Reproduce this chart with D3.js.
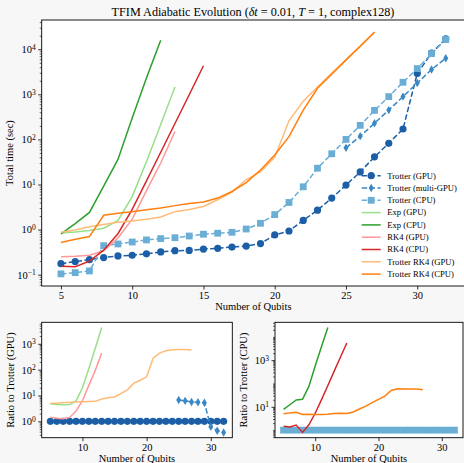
<!DOCTYPE html>
<html lang="en">
<head>
<meta charset="UTF-8">
<title>TFIM Adiabatic Evolution</title>
<script src="https://d3js.org/d3.v7.min.js"></script>
<style>
  body { margin: 0; padding: 0; background: #f7f7f7; }
  svg text { font-family: 'Liberation Serif', 'Times New Roman', serif; fill: #000; }
</style>
</head>
<body>
<div id="chart"></div>
<script>
// number of qubits
const qubits = [5, 6, 7, 8, 9, 10, 11, 12, 13, 14, 15, 16, 17, 18, 19, 20, 21, 22, 23, 24, 25, 26, 27, 28, 29, 30, 31, 32];
const multiQubits = [25, 26, 27, 28, 29, 30, 31, 32];

// total time (sec), series start at 5 qubits
const trotterGPU = [0.175, 0.195, 0.215, 0.24, 0.26, 0.27, 0.29, 0.32, 0.34, 0.345,
                    0.37, 0.385, 0.41, 0.43, 0.49, 0.76, 0.93, 1.6, 2.7, 5.0,
                    9.7, 19, 41, 82, 170, 2900, 8200, 17000];
const trotterMultiGPU = [65, 118, 228, 447, 890, 1780, 3550, 6300];
const trotterCPU = [0.104, 0.111, 0.121, 0.44, 0.48, 0.53, 0.59, 0.63, 0.66, 0.72,
                    0.79, 0.83, 0.87, 1.03, 1.38, 2.15, 4.0, 8.9, 23, 48,
                    100, 205, 440, 890, 1850, 3730, 8000, 16400];
const expGPU = [0.84, 0.88, 0.95, 1.07, 1.6, 5.4, 32, 215, 1450];
const expCPU = [0.8, 1.36, 2.4, 9.2, 36, 300, 2300, 15800];
const rk4GPU = [0.25, 0.255, 0.27, 0.34, 0.65, 1.7, 7.3, 30, 150];
const rk4CPU = [0.153, 0.15, 0.2, 0.35, 0.81, 2.8, 12, 52, 225, 980, 4300];
const trotterRK4GPU = [0.875, 0.98, 1.15, 1.3, 1.45, 1.55, 1.7, 1.9, 2.5, 2.8,
                       3.25, 4.6, 6.8, 12.9, 19, 40, 258, 700, 1450, 2950,
                       5800, 11400, 23800];
const trotterRK4CPU = [0.52, 0.61, 0.70, 2.08, 2.3, 2.5, 2.75, 3.0, 3.4, 3.8,
                       4.1, 5.0, 7.0, 11, 21, 45, 115, 445, 1360, 2800,
                       5800, 11800, 24000];

const xTicksMain = [5, 10, 15, 20, 25, 30];
const xTicksSmall = [10, 20, 30];

const colors = {
    trotterGPU: "#1c5fa6",
    trotterMulti: "#3b87c4",
    trotterCPU: "#6aaed6",
    expGPU: "#98df8a",
    expCPU: "#2ca02c",
    rk4GPU: "#ff9896",
    rk4CPU: "#d62728",
    trk4GPU: "#ffbb78",
    trk4CPU: "#ff7f0e"
};

const W = 464, H = 463;
const svg = d3.select("#chart").append("svg").attr("width", W).attr("height", H);
svg.append("rect").attr("width", W).attr("height", H).attr("fill", "#f7f7f7");

const pts = (qs, vals) => vals.map((v, i) => [qs[i], v]);
const ratio = (vals, base) => vals.map((v, i) => v / base[i]);

const xExt = d3.extent(qubits);
const xPad = (xExt[1] - xExt[0]) * 0.05;
const xDomain = [xExt[0] - xPad, xExt[1] + xPad];

function logDomain(vals) {
    const lo = Math.log10(d3.min(vals)), hi = Math.log10(d3.max(vals));
    const m = (hi - lo) * 0.05;
    return [Math.pow(10, lo - m), Math.pow(10, hi + m)];
}

function drawMarker(g, type, cx, cy, color) {
    if (type === "circle") {
        g.append("circle").attr("cx", cx).attr("cy", cy).attr("r", 3.6).attr("fill", color);
    } else if (type === "square") {
        g.append("rect").attr("x", cx - 3.4).attr("y", cy - 3.4).attr("width", 6.8).attr("height", 6.8).attr("fill", color);
    } else if (type === "diamond") {
        g.append("path").attr("d", `M${cx},${cy - 4.2}L${cx + 2.5},${cy}L${cx},${cy + 4.2}L${cx - 2.5},${cy}Z`).attr("fill", color);
    }
}

let clipId = 0;
function panel(p) {
    const x = d3.scaleLinear().domain(xDomain).range([p.x0, p.x1]);
    const allV = p.series.flatMap(s => s.data.map(d => d[1]));
    const y = d3.scaleLog().domain(logDomain(allV)).range([p.y1, p.y0]);
    const g = svg.append("g");

    g.append("rect").attr("x", p.x0).attr("y", p.y0).attr("width", p.x1 - p.x0).attr("height", p.y1 - p.y0).attr("fill", "#fff");

    const cid = "clip" + (clipId++);
    g.append("clipPath").attr("id", cid).append("rect")
        .attr("x", p.x0).attr("y", p.y0).attr("width", p.x1 - p.x0).attr("height", p.y1 - p.y0);
    const plot = g.append("g").attr("clip-path", `url(#${cid})`);

    const line = d3.line().x(d => x(d[0])).y(d => y(d[1]));
    p.series.forEach(s => {
        plot.append("path").datum(s.data)
            .attr("fill", "none")
            .attr("stroke", s.color)
            .attr("stroke-width", 1.5)
            .attr("stroke-dasharray", s.dashed ? "5.5,2.4" : null)
            .attr("d", line);
        if (s.marker) {
            s.data.forEach(d => drawMarker(plot, s.marker, x(d[0]), y(d[1]), s.color));
        }
    });

    // x axis
    const xa = g.append("g").attr("transform", `translate(0,${p.y1})`)
        .call(d3.axisBottom(x).tickValues(p.xTicks).tickSize(3.5).tickPadding(2.5));
    xa.select(".domain").remove();
    xa.selectAll("line").attr("stroke", "#000").attr("stroke-width", 0.8);
    xa.selectAll("text").attr("font-size", 10.5).attr("font-family", "'Liberation Serif', serif");

    // y axis, log decades
    const dom = y.domain();
    const dLo = Math.ceil(Math.log10(dom[0])), dHi = Math.floor(Math.log10(dom[1]));
    const decades = d3.range(dLo, dHi + 1);
    const majors = decades.filter(e => p.yStep === 1 || e % p.yStep === 1).map(e => Math.pow(10, e));
    const minors = [];
    d3.range(dLo - 1, dHi + 1).forEach(e => {
        for (let k = 1; k <= 9; k++) {
            const v = k * Math.pow(10, e);
            if (v >= dom[0] && v <= dom[1] && !majors.includes(v)) minors.push(v);
        }
    });

    const ya = g.append("g").attr("transform", `translate(${p.x0},0)`)
        .call(d3.axisLeft(y).tickValues(majors).tickSize(3.5).tickPadding(2.5));
    ya.select(".domain").remove();
    ya.selectAll("line").attr("stroke", "#000").attr("stroke-width", 0.8);
    ya.selectAll(".tick text").attr("font-size", 10.5).attr("font-family", "'Liberation Serif', serif")
        .each(function(d) {
            const t = d3.select(this).text("");
            const e = Math.round(Math.log10(d));
            t.append("tspan").text("10");
            t.append("tspan").attr("dy", "-0.45em").attr("font-size", "7.5px").text(e < 0 ? "\u2212" + (-e) : e);
        });
    const ym = g.append("g").attr("transform", `translate(${p.x0},0)`)
        .call(d3.axisLeft(y).tickValues(minors).tickSize(2).tickFormat(""));
    ym.select(".domain").remove();
    ym.selectAll("line").attr("stroke", "#000").attr("stroke-width", 0.6);

    // spines
    g.append("rect").attr("x", p.x0).attr("y", p.y0).attr("width", p.x1 - p.x0).attr("height", p.y1 - p.y0)
        .attr("fill", "none").attr("stroke", "#000").attr("stroke-width", 0.9);

    // labels
    g.append("text").attr("x", (p.x0 + p.x1) / 2).attr("y", p.xLabelY)
        .attr("text-anchor", "middle").attr("font-size", 10.5).text("Number of Qubits");
    g.append("text").attr("transform", `translate(${p.yLabelX},${(p.y0 + p.y1) / 2}) rotate(-90)`)
        .attr("text-anchor", "middle").attr("font-size", 10.5).text(p.yLabel);

    return { x, y, g };
}

// main panel
const mainSeries = [
    { label: "Trotter (GPU)", data: pts(qubits, trotterGPU), color: colors.trotterGPU, dashed: true, marker: "circle" },
    { label: "Trotter (multi-GPU)", data: pts(multiQubits, trotterMultiGPU), color: colors.trotterMulti, dashed: true, marker: "diamond" },
    { label: "Trotter (CPU)", data: pts(qubits, trotterCPU), color: colors.trotterCPU, dashed: true, marker: "square" },
    { label: "Exp (GPU)", data: pts(qubits, expGPU), color: colors.expGPU },
    { label: "Exp (CPU)", data: pts(qubits, expCPU), color: colors.expCPU },
    { label: "RK4 (GPU)", data: pts(qubits, rk4GPU), color: colors.rk4GPU },
    { label: "RK4 (CPU)", data: pts(qubits, rk4CPU), color: colors.rk4CPU },
    { label: "Trotter RK4 (GPU)", data: pts(qubits, trotterRK4GPU), color: colors.trk4GPU },
    { label: "Trotter RK4 (CPU)", data: pts(qubits, trotterRK4CPU), color: colors.trk4CPU }
];

const main = panel({
    x0: 41.7, x1: 465, y0: 20, y1: 286,
    series: mainSeries, xTicks: xTicksMain, yStep: 1,
    xLabelY: 310, yLabelX: 13, yLabel: "Total time (sec)"
});

// title
const title = svg.append("text").attr("x", 253).attr("y", 16).attr("text-anchor", "middle").attr("font-size", 12.2);
title.append("tspan").text("TFIM Adiabatic Evolution (");
title.append("tspan").attr("font-style", "italic").text("\u03b4t");
title.append("tspan").text(" = 0.01, ");
title.append("tspan").attr("font-style", "italic").text("T");
title.append("tspan").text(" = 1, complex128)");

// legend
const legend = svg.append("g");
mainSeries.forEach((s, i) => {
    const ly = 175.7 + i * 12.3;
    legend.append("line").attr("x1", 361.7).attr("x2", 380.7).attr("y1", ly).attr("y2", ly)
        .attr("stroke", s.color).attr("stroke-width", 1.5)
        .attr("stroke-dasharray", s.dashed ? "5.5,2.4" : null);
    if (s.marker) drawMarker(legend, s.marker, 371.2, ly, s.color);
    legend.append("text").attr("x", 387.3).attr("y", ly).attr("dy", "0.33em")
        .attr("font-size", 8.6).text(s.label);
});

// ratio to Trotter (GPU)
const baseMulti = multiQubits.map(q => trotterGPU[qubits.indexOf(q)]);
panel({
    x0: 41.7, x1: 232.3, y0: 322.3, y1: 437.7,
    series: [
        { data: pts(qubits, ratio(trotterGPU, trotterGPU)), color: colors.trotterGPU, dashed: true, marker: "circle" },
        { data: pts(multiQubits, ratio(trotterMultiGPU, baseMulti)), color: colors.trotterMulti, dashed: true, marker: "diamond" },
        { data: pts(qubits, ratio(expGPU, trotterGPU)), color: colors.expGPU },
        { data: pts(qubits, ratio(rk4GPU, trotterGPU)), color: colors.rk4GPU },
        { data: pts(qubits, ratio(trotterRK4GPU, trotterGPU)), color: colors.trk4GPU }
    ],
    xTicks: xTicksSmall, yStep: 1,
    xLabelY: 462, yLabelX: 14, yLabel: "Ratio to Trotter (GPU)"
});

// ratio to Trotter (CPU)
panel({
    x0: 275, x1: 463, y0: 322.3, y1: 437.7,
    series: [
        { data: pts(qubits, ratio(trotterCPU, trotterCPU)), color: colors.trotterCPU, dashed: true, marker: "square" },
        { data: pts(qubits, ratio(expCPU, trotterCPU)), color: colors.expCPU },
        { data: pts(qubits, ratio(rk4CPU, trotterCPU)), color: colors.rk4CPU },
        { data: pts(qubits, ratio(trotterRK4CPU, trotterCPU)), color: colors.trk4CPU }
    ],
    xTicks: xTicksSmall, yStep: 2,
    xLabelY: 462, yLabelX: 247, yLabel: "Ratio to Trotter (CPU)"
});
</script>
</body>
</html>
